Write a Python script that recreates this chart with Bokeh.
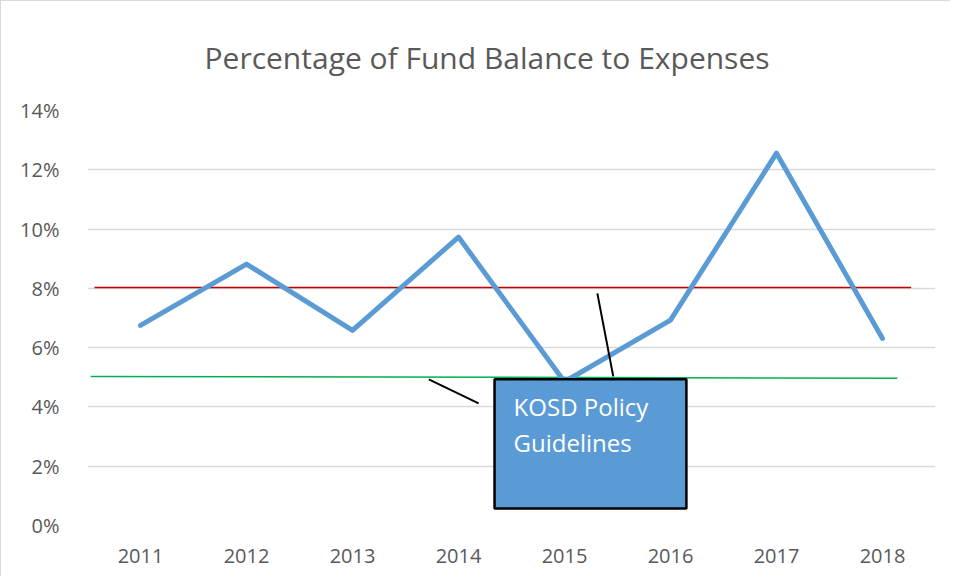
from bokeh.plotting import figure
from bokeh.models import FactorRange, Range1d, FixedTicker, Label
from bokeh.embed import file_html
from bokeh.resources import INLINE

# ---- data ----
years = ["2011", "2012", "2013", "2014", "2015", "2016", "2017", "2018"]
fund_pct = [6.75, 8.82, 6.58, 9.73, 4.85, 6.93, 12.56, 6.31]
policy_upper = 8.03
policy_lower_start = 5.03
policy_lower_end = 4.97
y_ticks = [0, 2, 4, 6, 8, 10, 12, 14]
title_text = "Percentage of Fund Balance to Expenses"
callout_lines = ["KOSD Policy", "Guidelines"]

FONT = "Open Sans"
GRAY = "#595959"

p = figure(
    x_range=FactorRange(factors=years, range_padding=0),
    y_range=Range1d(0, 14),
    width=950, height=576,
    output_backend="svg", toolbar_location=None,
    min_border_left=86, min_border_right=16,
    min_border_top=109, min_border_bottom=52,
)
p.title.text = title_text
p.title.text_font = FONT
p.title.text_font_size = "30px"
p.title.text_font_style = "normal"
p.title.text_color = GRAY
p.title.align = "left"
p.title.offset = 117
p.title.standoff = 66
p.outline_line_color = None
p.background_fill_color = "white"
p.border_fill_color = "white"

# axes
p.yaxis.ticker = FixedTicker(ticks=y_ticks)
p.yaxis.major_label_overrides = {t: f"{t}%" for t in y_ticks}
for ax in (p.xaxis[0], p.yaxis[0]):
    ax.axis_line_color = None
    ax.major_tick_line_color = None
    ax.minor_tick_line_color = None
    ax.major_label_text_font = FONT
    ax.major_label_text_font_size = "20px"
    ax.major_label_text_color = GRAY
p.yaxis.major_label_standoff = 22
p.xaxis.major_label_standoff = 17
p.xgrid.grid_line_color = None
p.ygrid.grid_line_color = "#d9d9d9"
p.ygrid.grid_line_width = 1.3
p.ygrid.ticker = FixedTicker(ticks=y_ticks)

# policy lines
p.segment(x0=[0.066], y0=[policy_upper], x1=[7.77], y1=[policy_upper],
          line_color="#C00000", line_width=1.5)
p.segment(x0=[0.03], y0=[policy_lower_start], x1=[7.64], y1=[policy_lower_end],
          line_color="#00B050", line_width=1.5)

# main series
p.line(years, fund_pct, line_color="#5B9BD5", line_width=5,
       line_cap="round", line_join="round")

# callout connectors
p.segment(x0=[3.22, 4.81], y0=[4.93, 7.83], x1=[3.69, 4.96], y1=[4.12, 5.03],
          line_color="black", line_width=2)

# callout box
p.quad(left=[3.84], right=[5.65], bottom=[0.57], top=[4.93],
       fill_color="#5B9BD5", line_color="black", line_width=2.5)
for i, t in enumerate(callout_lines):
    p.add_layout(Label(x=4.02, y=4.01 - i * 1.21, text=t,
                       text_font=FONT, text_font_size="24px",
                       text_color="white", text_baseline="middle",
                       text_align="left"))

p.styles = {"border-left": "1px solid #d9d9d9", "border-top": "1px solid #d9d9d9"}

open("out.html", "w").write(file_html(p, INLINE))
